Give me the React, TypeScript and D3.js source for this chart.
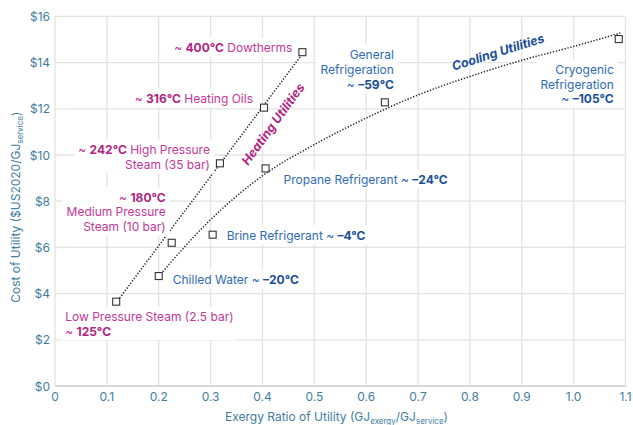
import React, { useEffect, useRef } from "react";
import * as d3 from "d3";

const W = 633;
const H = 425;

// Data
const heatingNames = ["Low Pressure Steam", "Medium Pressure Steam", "High Pressure Steam", "Heating Oils", "Dowtherms"];
const heatingX = [0.118, 0.225, 0.318, 0.403, 0.477];
const heatingY = [3.65, 6.2, 9.64, 12.05, 14.45];

const coolingNames = ["Chilled Water", "Brine Refrigerant", "Propane Refrigerant", "General Refrigeration", "Cryogenic Refrigeration"];
const coolingX = [0.2, 0.304, 0.406, 0.636, 1.087];
const coolingY = [4.76, 6.55, 9.42, 12.28, 15.02];

// Trend lines
const heatingTrendX = [0.121, 0.476];
const heatingTrendY = [3.7, 14.35];
const coolingTrendX = [0.2, 0.3, 0.4, 0.5, 0.6, 0.7, 0.8, 0.9, 1.0, 1.09];
const coolingTrendY = [4.75, 7.2, 9.1, 10.45, 11.6, 12.6, 13.4, 14.1, 14.7, 15.28];

const xTicks = [0, 0.1, 0.2, 0.3, 0.4, 0.5, 0.6, 0.7, 0.8, 0.9, 1.0, 1.1];
const xTickLabels = ["0", "0.1", "0.2", "0.3", "0.4", "0.5", "0.6", "0.7", "0.8", "0.9", "1.0", "1.1"];
const yTicks = [0, 2, 4, 6, 8, 10, 12, 14, 16];
const yTickLabels = ["$0", "$2", "$4", "$6", "$8", "$10", "$12", "$14", "$16"];

type Seg = [string, boolean];
// label lines per point
const heatingLabels: Seg[][][] = [
  [[["Low Pressure Steam (2.5 bar)", false]], [["~ ", false], ["125°C", true]]],
  [[["~ ", false], ["180°C", true]], [["Medium Pressure", false]], [["Steam (10 bar)", false]]],
  [[["~ ", false], ["242°C", true], [" High Pressure", false]], [["Steam (35 bar)", false]]],
  [[["~ ", false], ["316°C", true], [" Heating Oils", false]]],
  [[["~ ", false], ["400°C", true], [" Dowtherms", false]]],
];
const coolingLabels: Seg[][][] = [
  [[["Chilled Water ~ ", false], ["–20°C", true]]],
  [[["Brine Refrigerant ~ ", false], ["–4°C", true]]],
  [[["Propane Refrigerant ~ ", false], ["–24°C", true]]],
  [[["General", false]], [["Refrigeration", false]], [["~ ", false], ["–59°C", true]]],
  [[["Cryogenic", false]], [["Refrigeration", false]], [["~ ", false], ["–105°C", true]]],
];

// label placement (pixel offsets from the point)
const heatingLabelPos = [
  { anchor: "start", dx: -51, dy: [14.5, 29] },
  { anchor: "end", dx: -6, dy: [-46, -31.5, -16.5] },
  { anchor: "end", dx: -10, dy: [-14.5, 0.5] },
  { anchor: "end", dx: -11, dy: [-10] },
  { anchor: "end", dx: -10, dy: [-5] },
];
const coolingLabelPos = [
  { anchor: "start", dx: 14, dy: [3] },
  { anchor: "start", dx: 14, dy: [0] },
  { anchor: "start", dx: 18, dy: [11] },
  { anchor: "end", dx: 9, dy: [-48, -33.5, -18.5] },
  { anchor: "end", dx: -5, dy: [30, 44.5, 59] },
];

const MAGENTA = "#c2379a";
const MAGENTA_DARK = "#b0257f";
const BLUE = "#2f6bb3";
const BLUE_DARK = "#1b4f96";
const AXIS = "#3f7d9f";
const GRID = "#e3e3e3";
const FONT = "Inter, 'Noto Sans', sans-serif";

export default function App() {
  const ref = useRef<SVGSVGElement | null>(null);

  useEffect(() => {
    const svg = d3.select(ref.current);
    svg.selectAll("*").remove();

    const x = d3.scaleLinear().domain([0, 1.1]).range([55, 625.5]);
    const y = d3.scaleLinear().domain([0, 16]).range([386, 16.4]);

    const g = svg.append("g");

    // grid
    g.selectAll("line.vg")
      .data(xTicks)
      .join("line")
      .attr("x1", (d) => x(d))
      .attr("x2", (d) => x(d))
      .attr("y1", y(0))
      .attr("y2", y(16))
      .attr("stroke", GRID)
      .attr("stroke-width", 1.3);
    g.selectAll("line.hg")
      .data(yTicks)
      .join("line")
      .attr("x1", x(0))
      .attr("x2", x(1.1))
      .attr("y1", (d) => y(d))
      .attr("y2", (d) => y(d))
      .attr("stroke", GRID)
      .attr("stroke-width", 1.3);
    // axis baseline
    g.append("line")
      .attr("x1", x(0))
      .attr("x2", x(1.1))
      .attr("y1", y(0))
      .attr("y2", y(0))
      .attr("stroke", "#d2d2d2")
      .attr("stroke-width", 1.3);

    // tick labels
    g.selectAll("text.xt")
      .data(xTicks)
      .join("text")
      .attr("x", (d) => x(d))
      .attr("y", 396)
      .attr("text-anchor", "middle")
      .attr("dominant-baseline", "central")
      .attr("font-family", FONT)
      .attr("font-size", 12)
      .attr("fill", AXIS)
      .text((d, i) => xTickLabels[i]);
    g.selectAll("text.yt")
      .data(yTicks)
      .join("text")
      .attr("x", 50)
      .attr("y", (d) => y(d))
      .attr("text-anchor", "end")
      .attr("dominant-baseline", "central")
      .attr("font-family", FONT)
      .attr("font-size", 12)
      .attr("fill", AXIS)
      .text((d, i) => yTickLabels[i]);

    // axis titles
    const xt = g
      .append("text")
      .attr("x", 336.5)
      .attr("y", 420.5)
      .attr("text-anchor", "middle")
      .attr("font-family", FONT)
      .attr("font-size", 12)
      .attr("fill", AXIS);
    xt.append("tspan").text("Exergy Ratio of Utility (GJ");
    xt.append("tspan").attr("font-size", 8).attr("dy", 3).text("exergy");
    xt.append("tspan").attr("dy", -3).text("/GJ");
    xt.append("tspan").attr("font-size", 8).attr("dy", 3).text("service");
    xt.append("tspan").attr("dy", -3).text(")");

    const yt = g
      .append("text")
      .attr("transform", `translate(20,${y(8) + 6}) rotate(-90)`)
      .attr("text-anchor", "middle")
      .attr("font-family", FONT)
      .attr("font-size", 12)
      .attr("fill", AXIS);
    yt.append("tspan").text("Cost of Utility ($US2020/GJ");
    yt.append("tspan").attr("font-size", 8).attr("dy", 3).text("service");
    yt.append("tspan").attr("dy", -3).text(")");

    // trend lines
    const line = d3
      .line<[number, number]>()
      .x((d) => x(d[0]))
      .y((d) => y(d[1]));
    g.append("path")
      .attr("d", line(heatingTrendX.map((v, i) => [v, heatingTrendY[i]] as [number, number])))
      .attr("fill", "none")
      .attr("stroke", "#222")
      .attr("stroke-width", 1.5)
      .attr("stroke-dasharray", "1.3,1.7");
    g.append("path")
      .attr(
        "d",
        line.curve(d3.curveMonotoneX)(coolingTrendX.map((v, i) => [v, coolingTrendY[i]] as [number, number]))
      )
      .attr("fill", "none")
      .attr("stroke", "#222")
      .attr("stroke-width", 1.5)
      .attr("stroke-dasharray", "1.3,1.7");

    // labels
    const drawLabel = (
      px: number,
      py: number,
      lines: Seg[][],
      pos: { anchor: string; dx: number; dy: number[] },
      light: string,
      dark: string
    ) => {
      const lg = g.append("g");
      const bg = lg.append("rect").attr("fill", "white");
      const t = lg
        .append("text")
        .attr("font-family", FONT)
        .attr("font-size", 12)
        .attr("text-anchor", pos.anchor)
        .attr("dominant-baseline", "central");
      lines.forEach((segs, li) => {
        segs.forEach((s, si) => {
          const ts = t.append("tspan").attr("fill", s[1] ? dark : light).attr("font-weight", s[1] ? 700 : 400);
          if (si === 0) ts.attr("x", px + pos.dx).attr("y", py + pos.dy[li]);
          ts.text(s[0]);
        });
      });
      const node = t.node() as SVGTextElement;
      const bb = node.getBBox();
      bg.attr("x", bb.x - 4)
        .attr("y", bb.y - 2)
        .attr("width", bb.width + 8)
        .attr("height", bb.height + 4);
    };

    heatingX.forEach((v, i) =>
      drawLabel(x(v), y(heatingY[i]), heatingLabels[i], heatingLabelPos[i], MAGENTA, MAGENTA_DARK)
    );
    coolingX.forEach((v, i) =>
      drawLabel(x(v), y(coolingY[i]), coolingLabels[i], coolingLabelPos[i], BLUE, BLUE_DARK)
    );

    // group titles
    g.append("text")
      .attr("transform", `translate(273,124) rotate(-54)`)
      .attr("text-anchor", "middle")
      .attr("dominant-baseline", "central")
      .attr("font-family", FONT)
      .attr("font-size", 12.5)
      .attr("font-weight", 700)
      .attr("font-style", "italic")
      .attr("fill", MAGENTA_DARK)
      .text("Heating Utilities");
    g.append("text")
      .attr("transform", `translate(498,52) rotate(-17.5)`)
      .attr("text-anchor", "middle")
      .attr("dominant-baseline", "central")
      .attr("font-family", FONT)
      .attr("font-size", 12.5)
      .attr("font-weight", 700)
      .attr("font-style", "italic")
      .attr("fill", BLUE_DARK)
      .text("Cooling Utilities");

    // markers
    const pts = [
      ...heatingX.map((v, i) => [v, heatingY[i]]),
      ...coolingX.map((v, i) => [v, coolingY[i]]),
    ];
    g.selectAll("rect.pt")
      .data(pts)
      .join("rect")
      .attr("x", (d) => x(d[0]) - 3.5)
      .attr("y", (d) => y(d[1]) - 3.5)
      .attr("width", 7)
      .attr("height", 7)
      .attr("fill", "white")
      .attr("stroke", "#333")
      .attr("stroke-width", 1.1);
  }, []);

  return (
    <svg
      ref={ref}
      width={W}
      height={H}
      style={{ position: "fixed", left: 0, top: 0, background: "white" }}
    />
  );
}
